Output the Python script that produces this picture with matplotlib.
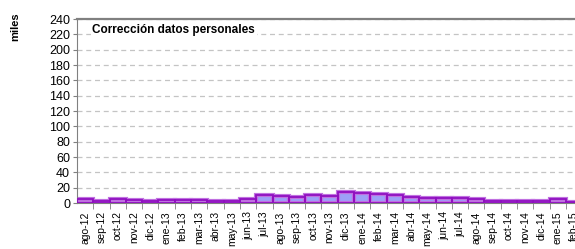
import matplotlib.pyplot as plt
import numpy as np

# months shown on the x axis
meses = ['ago-12', 'sep-12', 'oct-12', 'nov-12', 'dic-12', 'ene-13', 'feb-13',
         'mar-13', 'abr-13', 'may-13', 'jun-13', 'jul-13', 'ago-13', 'sep-13',
         'oct-13', 'nov-13', 'dic-13', 'ene-14', 'feb-14', 'mar-14', 'abr-14',
         'may-14', 'jun-14', 'jul-14', 'ago-14', 'sep-14', 'oct-14', 'nov-14',
         'dic-14', 'ene-15', 'feb-15']
# miles de correcciones
valores = [5, 3, 5, 4, 2, 4, 4, 4, 3, 3, 5, 11, 9, 8, 11, 9, 14, 13, 12, 10.5,
           7.5, 6, 6, 6, 5, 3, 3, 3, 3, 5, 1.5]
yticks = list(range(0, 241, 20))

plt.rcParams['font.family'] = ['Liberation Sans Narrow', 'Liberation Sans', 'DejaVu Sans']

fig = plt.figure(figsize=(5.75, 2.49), dpi=100)
# plot area runs off the right edge like the original
ax = fig.add_axes([77 / 575, 46 / 249, 31 * 16.3 / 575, 184 / 249])

x = np.arange(len(meses))
ax.bar(x, valores, width=1.0, color='#9DA0F8', edgecolor='#C070E0', linewidth=3, zorder=2)
ax.bar(x, valores, width=1.0, color='none', edgecolor='#9010C0', linewidth=1.3, zorder=3)

ax.set_xlim(-0.5, len(meses) - 0.5)
ax.set_ylim(0, 240)
ax.set_yticks(yticks)
ax.set_yticklabels([str(v) for v in yticks], fontsize=9)
ax.yaxis.grid(True, linestyle=(0, (4, 3)), color='#C4C4C4', linewidth=0.9)
ax.set_axisbelow(True)

ax.set_xticks(x)
ax.set_xticklabels(meses, rotation=90, fontsize=7.5)
ax.set_xticks(x[:-1] + 0.5, minor=True)
ax.tick_params(axis='x', which='major', length=0, pad=6)
ax.tick_params(axis='x', which='minor', length=4, color='#808080')
ax.tick_params(axis='y', length=3, color='#808080', pad=2)

for s in ['left', 'bottom', 'top']:
    ax.spines[s].set_color('#808080')
ax.spines['top'].set_linewidth(1.6)
ax.spines['right'].set_visible(False)

ax.text(0.45, 226, 'Corrección datos personales', fontsize=8.5, fontweight='bold',
        va='center', ha='left',
        bbox=dict(facecolor='white', edgecolor='none', pad=1), zorder=5)

fig.text(15 / 575, 1 - 27 / 249, 'miles', rotation=90, fontsize=8, fontweight='bold',
         ha='center', va='center', family=['Liberation Sans', 'DejaVu Sans'])

fig.savefig('out.png', dpi=100)
